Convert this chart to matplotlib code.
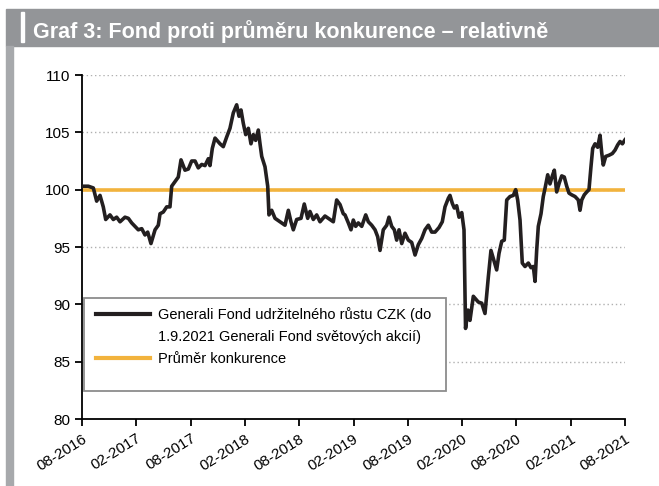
import matplotlib
matplotlib.use("Agg")
import matplotlib.pyplot as plt
from matplotlib.patches import Rectangle
from matplotlib.lines import Line2D

plt.rcParams['font.family'] = ['Liberation Sans', 'DejaVu Sans']

# months since 08-2016 and fund value relative to peer average
months = [0.0, 0.70, 1.25, 1.62, 1.99, 2.35, 2.62, 3.09, 3.46, 3.83, 4.20, 4.75, 5.12, 5.49,
          5.86, 6.22, 6.60, 6.96, 7.26, 7.62, 8.07, 8.43, 8.62, 8.98, 9.36, 9.72, 9.91, 10.28,
          10.64, 10.94, 11.38, 11.75, 12.12, 12.49, 12.85, 13.23, 13.59, 13.96, 14.14, 14.40,
          14.70, 15.25, 15.61, 15.99, 16.35, 16.72, 17.09, 17.35, 17.57, 17.82, 18.09, 18.38,
          18.67, 18.93, 19.19, 19.48, 19.67, 19.86, 20.22, 20.52, 20.66, 20.96, 21.33, 21.88,
          22.43, 22.80, 23.09, 23.35, 23.72, 24.20, 24.56, 24.94, 25.19, 25.56, 25.93, 26.30,
          26.85, 27.40, 27.77, 28.14, 28.51, 28.87, 29.06, 29.43, 29.72, 29.98, 30.24, 30.53,
          30.91, 31.35, 31.64, 32.01, 32.38, 32.67, 32.93, 33.29, 33.67, 33.92, 34.22, 34.51,
          34.77, 35.03, 35.33, 35.69, 36.06, 36.43, 36.80, 37.16, 37.54, 37.90, 38.27, 38.64,
          39.01, 39.45, 39.81, 40.11, 40.48, 40.66, 40.92, 41.14, 41.40, 41.66, 41.96, 42.21,
          42.38, 42.65, 42.87, 43.24, 43.79, 44.17, 44.53, 44.90, 45.19, 45.56, 45.82, 46.08,
          46.38, 46.66, 46.93, 47.29, 47.66, 47.92, 48.14, 48.40, 48.65, 48.95, 49.32, 49.61,
          49.87, 50.06, 50.24, 50.42, 50.72, 50.97, 51.16, 51.46, 51.71, 51.97, 52.19, 52.45,
          52.74, 53.01, 53.29, 53.56, 53.81, 54.11, 54.48, 54.84, 55.03, 55.22, 55.50, 55.77,
          56.02, 56.24, 56.43, 56.69, 56.98, 57.24, 57.43, 57.60, 57.87, 58.23, 58.60, 58.90,
          59.19, 59.45, 59.71, 60.0]
fund = [100.3, 100.3, 100.15, 99.0, 99.5, 98.5, 97.4, 97.8, 97.4, 97.6, 97.2, 97.6, 97.5, 97.1,
        96.8, 96.5, 96.6, 96.05, 96.3, 95.3, 96.5, 96.9, 97.9, 98.05, 98.5, 98.5, 100.3, 100.7,
        101.1, 102.6, 101.7, 101.8, 102.5, 102.5, 101.9, 102.2, 102.1, 102.7, 102.1, 103.6,
        104.5, 104.0, 103.75, 104.6, 105.35, 106.7, 107.4, 106.4, 106.95, 105.8, 104.8, 105.35,
        104.0, 104.8, 104.3, 105.2, 104.0, 102.9, 102.0, 100.3, 97.8, 98.2, 97.5, 97.2,
        96.9, 98.2, 97.2, 96.5, 97.4, 97.5, 98.75, 97.5, 98.1, 97.4, 97.8, 97.2,
        97.7, 97.4, 97.2, 99.1, 98.7, 97.9, 97.8, 97.1, 96.5, 97.35, 96.8, 97.1,
        96.8, 97.8, 97.2, 96.9, 96.5, 95.9, 94.7, 96.5, 96.9, 97.6, 96.8, 96.5,
        95.6, 96.5, 95.3, 96.2, 95.6, 95.4, 94.3, 95.2, 95.75, 96.5, 96.9, 96.3,
        96.3, 96.7, 97.2, 98.5, 99.25, 99.5, 98.8, 98.4, 98.6, 97.6, 98.0, 96.5,
        87.9, 89.5, 88.6, 90.7, 90.2, 90.1, 89.2, 92.4, 94.7, 93.7, 93.0, 94.45,
        95.5, 95.6, 99.1, 99.4, 99.5, 100.0, 99.1, 97.35, 93.6, 93.3, 93.6, 93.2,
        93.3, 92.0, 94.7, 96.8, 97.9, 99.4, 100.1, 101.3, 100.5, 101.2, 101.7, 99.8,
        100.6, 101.2, 101.1, 100.3, 99.7, 99.55, 99.4, 99.1, 98.2, 99.1, 99.55, 99.8,
        100.0, 102.0, 103.6, 104.0, 103.7, 104.75, 103.2, 102.15, 102.9, 103.0, 103.15, 103.45,
        103.9, 104.2, 104.0, 104.35]
peer_avg = [100.0, 100.0]
peer_x = [0, 60]

tick_pos = [0, 6, 12, 18, 24, 30, 36, 42, 48, 54, 60]
tick_labels = ['08-2016', '02-2017', '08-2017', '02-2018', '08-2018', '02-2019',
               '08-2019', '02-2020', '08-2020', '02-2021', '08-2021']

fund_label = ['Generali Fond udržitelného růstu CZK (do', '1.9.2021 Generali Fond světových akcií)']
peer_label = 'Průměr konkurence'

fig = plt.figure(figsize=(6.59, 4.86), dpi=100)

# header bar and left strip
fig.patches.append(Rectangle((6/659, 1-46/486), 653/659, 37/486, transform=fig.transFigure,
                             color='#939598', zorder=0))
fig.patches.append(Rectangle((6/659, 0), 7/659, 1-46/486, transform=fig.transFigure,
                             color='#a7a9ac', zorder=0))
fig.patches.append(Rectangle((21/659, 1-42/486), 3/659, 30/486, transform=fig.transFigure,
                             color='white', zorder=1))
fig.text(33/659, 1-32/486, 'Graf 3: Fond proti průměru konkurence – relativně', color='white',
         fontsize=15.5, fontweight='bold', va='center', ha='left')

ax = fig.add_axes([82/659, 1-419/486, 543/659, 344/486])
ax.plot(peer_x, peer_avg, color='#f2b33d', lw=2.6, solid_capstyle='butt', zorder=2)
ax.plot(months, fund, color='#231f20', lw=2.6, zorder=3)

ax.set_xlim(0, 60)
ax.set_ylim(80, 110)
ax.set_yticks([80, 85, 90, 95, 100, 105, 110])
ax.set_xticks(tick_pos)
ax.set_xticklabels(tick_labels, rotation=32, ha='right', rotation_mode='anchor')
ax.tick_params(axis='both', labelsize=11, direction='out', length=5, width=1.3, colors='black')
ax.tick_params(axis='x', pad=4)
for y in [85, 90, 95, 100, 105, 110]:
    ax.axhline(y, color='#b0b0b0', lw=1, ls=(0, (1, 2)), zorder=1)
for s in ['top', 'right']:
    ax.spines[s].set_visible(False)
for s in ['left', 'bottom']:
    ax.spines[s].set_linewidth(1.3)

# legend box
fig.patches.append(Rectangle((84/659, 1-391/486), 362/659, 93/486, transform=fig.transFigure,
                             facecolor='white', edgecolor='#8c8c8c', lw=1.3, zorder=5))
handles = [Line2D([], [], color='#231f20', lw=3),
           Line2D([], [], color='none', lw=3),
           Line2D([], [], color='#f2b33d', lw=3)]
labels = [fund_label[0], fund_label[1], peer_label]
leg = fig.legend(handles, labels, loc='upper left', bbox_to_anchor=(86/659, 1-297/486),
                 frameon=False, fontsize=10.5, handlelength=3.7, handletextpad=0.55,
                 labelspacing=0.55, borderpad=0.2)
leg.set_zorder(6)

fig.savefig('out.png', dpi=100)
